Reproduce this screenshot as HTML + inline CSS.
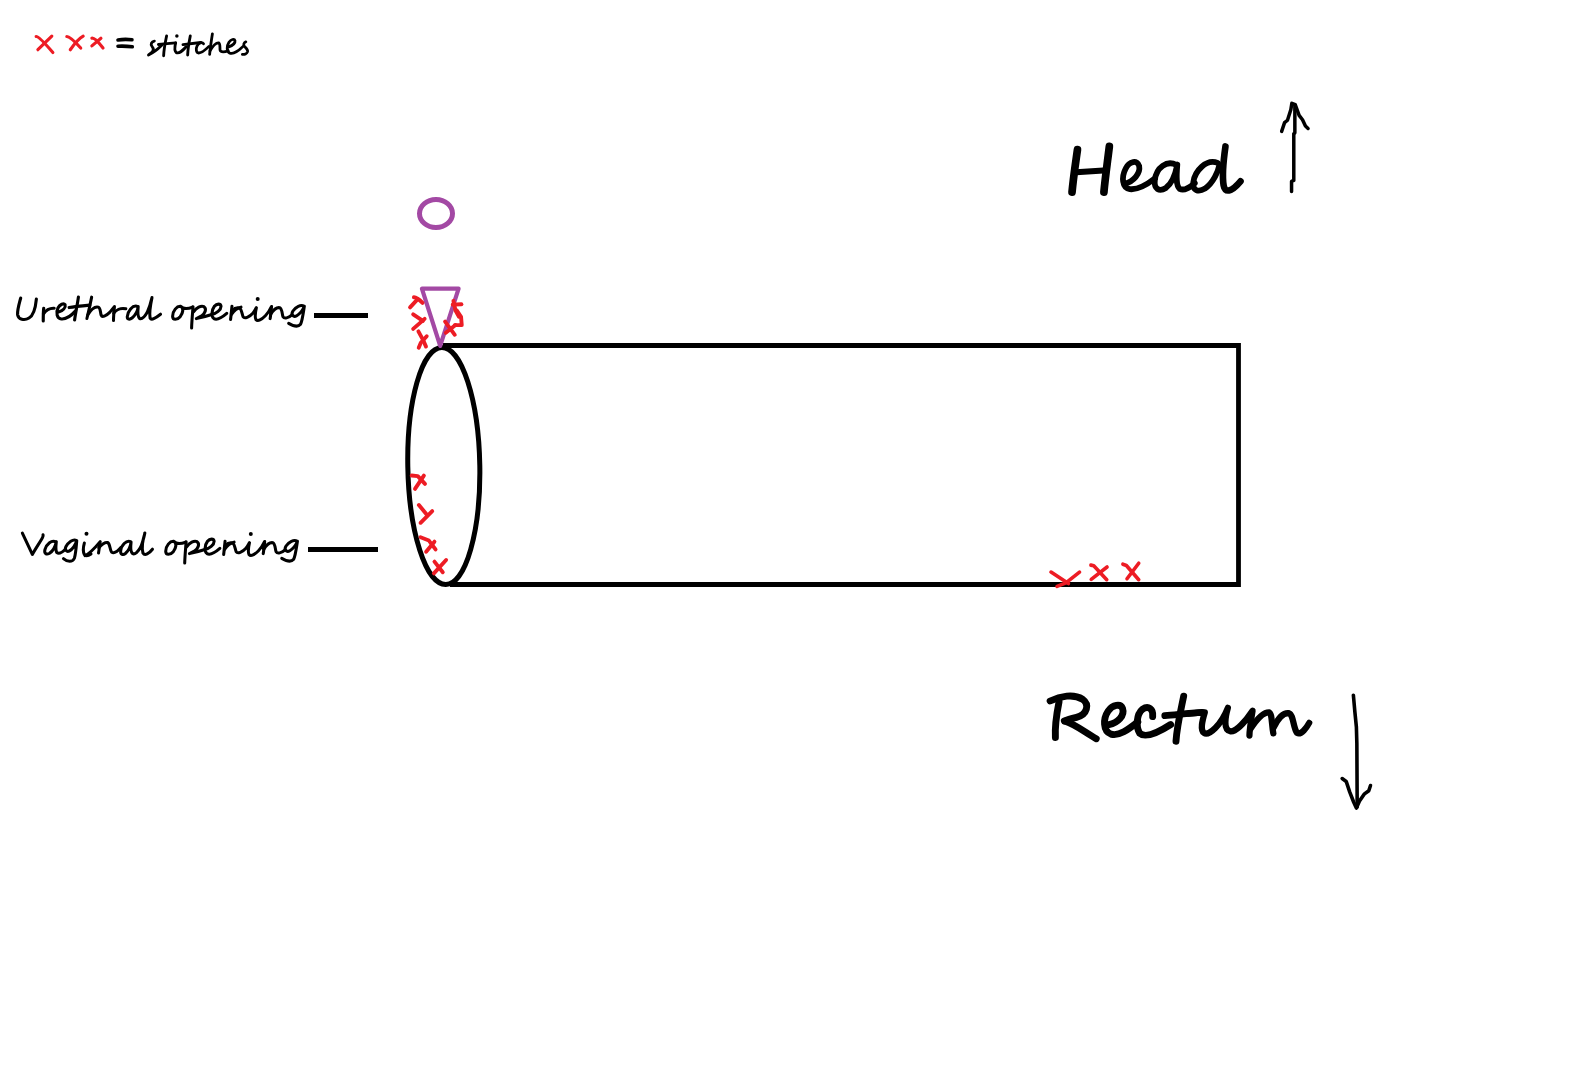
<!DOCTYPE html>
<html><head><meta charset="utf-8"><style>
html,body{margin:0;padding:0;background:#fff;width:1579px;height:1081px;overflow:hidden;font-family:"Liberation Sans",sans-serif;}
svg{position:absolute;left:0;top:0;}
.k{fill:none;stroke:#000;stroke-linecap:round;stroke-linejoin:round;}
.r{fill:none;stroke:#ED1C24;stroke-linecap:round;stroke-linejoin:round;}
.p{fill:none;stroke:#A349A4;}
</style></head><body>
<svg width="1579" height="1081" viewBox="0 0 1579 1081">
<!-- rectangle -->
<path d="M443,345.5 H1238.5 V584.5 H450" fill="none" stroke="#000" stroke-width="4.8" stroke-linejoin="miter"/>
<!-- ellipse -->
<ellipse cx="443.8" cy="466" rx="36" ry="118.5" fill="none" stroke="#000" stroke-width="5" transform="rotate(-1 443.8 466)"/>
<!-- leader lines -->
<path d="M314,315.5 H368" class="k" stroke-width="5" style="stroke-linecap:butt"/>
<path d="M308,549.5 H378" class="k" stroke-width="5" style="stroke-linecap:butt"/>
<!-- purple circle -->
<ellipse cx="436" cy="213.5" rx="16.5" ry="14" class="p" stroke-width="5"/>
<!-- purple triangle -->
<path d="M421.9,288.7 H458.6 L440.2,345.9 Z" class="p" stroke-width="4.2" stroke-linejoin="round"/>

<!-- red marks: triangle -->
<g transform="translate(400,280) scale(0.069376)" class="r" stroke-width="56">
<path d="M200,248 Q250,250 325,330"/><path d="M145,395 L255,275"/>
<path d="M190,495 L330,590"/><path d="M190,705 L355,560"/>
<path d="M265,740 L330,860 L375,960"/><path d="M270,975 L300,905 L385,810"/>
<path d="M770,300 L800,440 L850,530"/><path d="M760,355 L885,350"/>
<path d="M820,440 L880,530 L890,650 L790,650"/><path d="M650,600 L790,790"/>
<path d="M660,760 L800,650"/>
</g>
<!-- red marks: ellipse -->
<g transform="translate(400,465) scale(0.11111)" class="r" stroke-width="35">
<path d="M105,95 L160,100 L225,170"/><path d="M215,95 L135,215"/>
<path d="M170,360 L240,445"/><path d="M290,415 L185,520"/>
<path d="M185,650 L260,680 L320,760"/><path d="M310,690 L235,780"/>
<path d="M310,870 L385,965"/><path d="M415,855 L305,975"/>
</g>
<!-- red marks: bottom -->
<g transform="translate(1045,555) scale(0.063331)" class="r" stroke-width="57">
<path d="M95,270 L370,450"/><path d="M545,270 L330,440 L190,495"/>
<path d="M725,160 L770,170 L975,390"/><path d="M980,190 L730,385"/>
<path d="M1230,145 L1285,165 L1480,390"/><path d="M1480,130 L1295,375"/>
</g>
<!-- legend -->
<g transform="translate(25,25) scale(0.069664)">
<g class="r" stroke-width="45">
<path d="M160,165 Q200,160 400,395"/><path d="M385,160 L185,355"/>
<path d="M600,165 Q650,165 800,330"/><path d="M835,160 Q760,200 650,355"/>
<path d="M960,190 Q1000,175 1120,330"/><path d="M1090,190 L960,300"/>
</g>
<g class="k" stroke-width="52">
<path d="M1335,215 Q1430,200 1535,212"/><path d="M1335,305 Q1430,300 1540,312"/>
</g>
</g>

<!-- Head -->
<g transform="translate(1060,135) scale(0.12033)" class="k" stroke-width="55">
<path d="M145,122 C130,230 110,360 100,475" stroke-width="64"/>
<path d="M410,95 C395,220 375,360 365,475" stroke-width="64"/>
<path d="M135,310 L360,295" stroke-width="50"/>
<path d="M540,405 C610,385 670,320 658,258 C645,205 575,215 545,280 C510,350 515,440 580,450 C650,458 720,415 790,360" stroke-width="48"/>
<path d="M968,250 C890,205 800,270 788,375 C780,450 825,475 880,440 C935,400 960,320 975,245 C968,330 960,420 995,448 C1035,468 1080,432 1120,400" stroke-width="48"/>
<path d="M1310,232 C1215,195 1120,300 1108,392 C1098,462 1150,478 1205,445 C1275,398 1315,300 1325,248" stroke-width="48"/>
<path d="M1375,95 C1360,200 1345,330 1360,420 C1370,480 1420,480 1500,385"/>
</g>

<!-- Rectum -->
<g transform="translate(1040,685) scale(0.10133)" class="k" stroke-width="68">
<path d="M100,158 C200,110 330,85 420,140 C490,190 470,290 360,320 C300,335 265,345 240,355"/>
<path d="M250,358 C350,390 450,470 555,530"/>
<path d="M188,165 C165,280 145,400 152,518"/>
<path d="M680,392 C770,372 838,300 815,232 C795,182 718,192 672,258 C622,332 620,455 700,485 C780,508 870,440 965,365"/>
<path d="M1112,312 C1120,235 1070,200 1010,240 C950,290 945,420 985,478 C1040,525 1150,480 1290,390"/>
<path d="M1418,110 C1390,250 1352,400 1342,555"/>
<path d="M1232,302 C1350,292 1470,280 1600,270"/>
</g>
<g transform="translate(1190,700) scale(0.08233)" class="k" stroke-width="76">
<path d="M-20,165 C50,160 120,150 180,150 C150,250 120,360 170,400 C230,440 380,300 460,95 C430,200 400,360 490,380 C560,390 680,250 760,130 C740,250 722,380 722,432"/>
<path d="M735,350 C800,250 880,150 958,150 C1000,160 990,300 1012,405"/>
<path d="M1015,335 C1060,240 1130,150 1200,160 C1260,180 1250,330 1300,400 C1350,430 1420,330 1448,278"/>
</g>

<!-- arrows -->
<g transform="translate(1270,95) scale(0.097087)" class="k" stroke-width="36">
<path d="M222,995 L222,890 L245,880 L245,400 L256,390 L256,100"/>
<path d="M120,375 L150,285 L180,260 L215,150 L225,85 L260,100 L300,210 L335,255 L365,320 L392,345"/>
</g>
<g transform="translate(1330,690) scale(0.11574)" class="k" stroke-width="31">
<path d="M202,45 L215,190 L228,320 L232,460 L235,1010"/>
<path d="M105,765 L140,790 L170,880 L205,970 L228,1020 L255,960 L295,900 L335,870 L350,825"/>
</g>

<!-- Urethral opening -->
<g transform="translate(10,290) scale(0.0475)" class="k" stroke-width="66">
<path d="M225,170 C190,300 150,430 160,520 C180,620 300,650 400,590 C500,530 540,350 555,190"/>
<path d="M710,385 C700,460 700,560 700,650"/>
<path d="M705,500 C760,420 840,380 930,385"/>
<path d="M1030,460 C1110,430 1180,370 1160,310 C1130,270 1050,300 1010,380 C960,480 990,600 1080,610 C1180,620 1300,530 1380,440"/>
<path d="M1440,150 C1420,300 1380,480 1360,630"/>
<path d="M1245,370 C1350,350 1450,340 1680,318"/>
</g>
<g transform="translate(85,290) scale(0.0475)" class="k" stroke-width="64">
<path d="M140,150 C110,300 70,480 40,600"/>
<path d="M60,520 C120,420 200,340 280,360 C330,380 320,470 340,530 C360,580 440,550 520,470 C560,420 600,380 620,350 C610,450 600,560 600,640"/>
<path d="M605,490 C650,420 750,370 860,395"/>
<path d="M1090,340 C1000,320 900,440 890,560 C885,620 940,630 990,590 C1060,530 1110,420 1120,350 C1110,450 1100,560 1150,600 C1200,620 1260,560 1310,470 C1350,380 1390,250 1410,160 C1380,300 1350,480 1370,590 C1400,650 1500,580 1590,510"/>
</g>
<g transform="translate(165,292) scale(0.0475)" class="k" stroke-width="64">
<path d="M330,300 C250,290 160,400 160,510 C160,600 260,590 320,520 C380,440 400,340 330,300 C380,360 470,360 580,320"/>
<path d="M590,310 C580,450 565,600 560,760"/>
<path d="M600,420 C660,330 760,280 820,310 C880,350 850,460 760,510 C720,530 680,550 660,560 C760,540 880,510 985,475"/>
<path d="M985,475 C1080,450 1180,380 1180,300 C1170,240 1090,240 1040,300 C980,380 970,520 1030,560 C1100,600 1220,520 1300,450"/>
<path d="M1410,300 C1400,400 1390,500 1380,580"/>
<path d="M1400,470 C1450,400 1520,340 1600,318"/>
</g>
<g transform="translate(235,292) scale(0.0475)" class="k" stroke-width="64">
<path d="M-60,390 C-20,350 40,320 100,340 C140,370 150,470 170,520 C200,570 300,530 380,440 C410,400 430,360 450,330 C430,420 410,520 440,580 C480,630 560,580 640,500 C700,440 740,370 770,305 C760,400 750,500 740,560"/>
<path d="M750,470 C800,390 870,320 940,330 C990,350 990,450 1010,520 C1040,570 1120,550 1200,480"/>
<path d="M1460,300 C1380,260 1280,310 1220,400 C1170,480 1230,540 1300,500 C1370,460 1420,390 1460,300 C1440,420 1420,600 1380,680 C1330,740 1230,720 1130,660"/>
<circle cx="478" cy="145" r="42" fill="#000" stroke="none"/>
</g>

<!-- Vaginal opening -->
<g transform="translate(15,525) scale(0.0475)" class="k" stroke-width="64">
<path d="M155,170 L365,620 C420,520 500,400 560,300 C590,250 595,220 590,205"/>
<path d="M860,360 C780,300 660,400 630,520 C610,600 660,630 720,600 C800,550 850,450 870,350 C860,440 850,540 880,580 C920,610 1000,570 1060,510"/>
<path d="M1300,330 C1220,280 1120,370 1070,460 C1040,530 1090,570 1140,550 C1210,510 1270,420 1300,330 C1290,450 1280,600 1250,700 C1210,790 1100,780 1020,710"/>
<circle cx="1505" cy="185" r="42" fill="#000" stroke="none"/>
<path d="M1460,380 C1440,450 1430,560 1460,620 C1490,660 1550,645 1600,610"/>
</g>
<g transform="translate(85,525) scale(0.0475)" class="k" stroke-width="64">
<path d="M0,645 C100,600 220,470 320,350 C310,430 295,520 285,590"/>
<path d="M290,480 C350,410 420,360 480,370 C530,400 520,520 560,570 C610,610 700,540 760,470"/>
<path d="M960,350 C870,310 760,430 750,550 C745,620 800,640 850,600 C920,540 960,430 970,360 C960,450 950,560 1000,600 C1050,630 1120,560 1170,470 C1210,380 1240,260 1260,170 C1220,300 1190,480 1220,590 C1260,660 1350,600 1420,510"/>
</g>
<g transform="translate(-6.9,235)">
<g transform="translate(165,292) scale(0.0475)" class="k" stroke-width="64">
<path d="M330,300 C250,290 160,400 160,510 C160,600 260,590 320,520 C380,440 400,340 330,300 C380,360 470,360 580,320"/>
<path d="M590,310 C580,450 565,600 560,760"/>
<path d="M600,420 C660,330 760,280 820,310 C880,350 850,460 760,510 C720,530 680,550 660,560 C760,540 880,510 985,475"/>
<path d="M985,475 C1080,450 1180,380 1180,300 C1170,240 1090,240 1040,300 C980,380 970,520 1030,560 C1100,600 1220,520 1300,450"/>
<path d="M1410,300 C1400,400 1390,500 1380,580"/>
<path d="M1400,470 C1450,400 1520,340 1600,318"/>
</g>
<g transform="translate(235,292) scale(0.0475)" class="k" stroke-width="64">
<path d="M-60,390 C-20,350 40,320 100,340 C140,370 150,470 170,520 C200,570 300,530 380,440 C410,400 430,360 450,330 C430,420 410,520 440,580 C480,630 560,580 640,500 C700,440 740,370 770,305 C760,400 750,500 740,560"/>
<path d="M750,470 C800,390 870,320 940,330 C990,350 990,450 1010,520 C1040,570 1120,550 1200,480"/>
<path d="M1460,300 C1380,260 1280,310 1220,400 C1170,480 1230,540 1300,500 C1370,460 1420,390 1460,300 C1440,420 1420,600 1380,680 C1330,740 1230,720 1130,660"/>
<circle cx="478" cy="145" r="42" fill="#000" stroke="none"/>
</g>
</g>

<!-- stitches -->
<g transform="translate(145,30) scale(0.03483)" class="k" stroke-width="82">
<path d="M268,318 C190,330 150,410 200,470 C245,525 265,575 200,640 C160,680 120,700 100,718 C230,660 380,540 480,440"/>
<path d="M385,415 C550,400 720,385 880,370"/>
<path d="M620,170 C590,320 545,500 535,740"/>
<path d="M880,370 C860,450 840,600 900,650 C960,680 1080,600 1180,480"/>
<circle cx="915" cy="175" r="50" fill="#000" stroke="none"/>
<path d="M1300,170 C1270,320 1232,500 1225,720"/>
<path d="M1090,420 C1250,400 1420,380 1600,360"/>
</g>
<g transform="translate(195,30) scale(0.03483)" class="k" stroke-width="80">
<path d="M245,395 C205,335 105,365 60,455 C15,545 35,660 105,660 C185,660 300,570 400,470"/>
<path d="M500,110 C470,300 440,500 420,700"/>
<path d="M430,600 C500,480 600,360 680,370 C730,390 710,500 720,580 C740,650 860,640 950,590"/>
<path d="M950,490 C1070,450 1160,380 1148,305 C1130,245 1030,265 975,350 C910,450 900,610 990,658 C1080,705 1250,600 1380,470"/>
<path d="M1460,340 C1400,370 1380,420 1420,470 C1470,520 1520,560 1510,620 C1490,680 1420,710 1360,700"/>
</g>
</svg>
</body></html>
